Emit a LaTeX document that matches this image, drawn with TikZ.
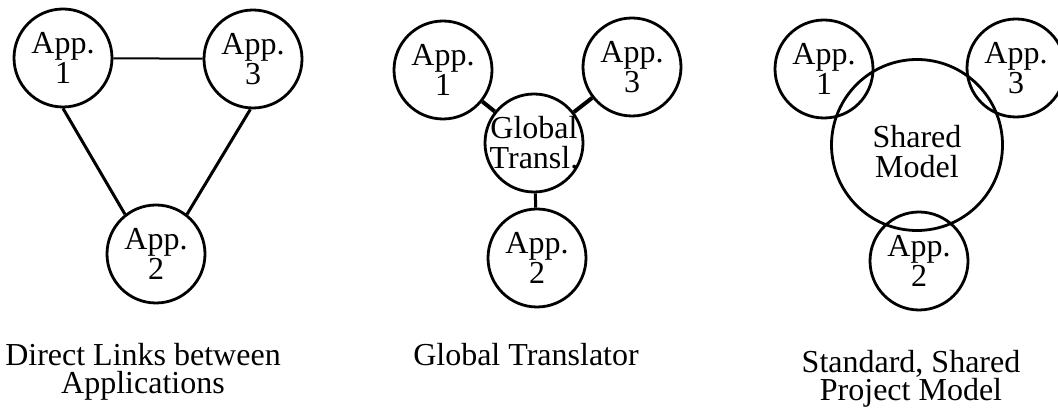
\documentclass[tikz,border=0pt]{standalone}
\usepackage{fontspec}
\setmainfont{Liberation Serif}
% two centred lines of zero width, so the circle size does not depend on the text
\newcommand{\twolines}[2]{\makebox[0pt]{#1}\\\makebox[0pt]{#2}}
\begin{document}
\begin{tikzpicture}[x=0.5pt,y=-0.5pt,
  app/.style={circle,draw,line width=1.4pt,minimum size=49pt,inner sep=0pt,
    align=center,font=\fontsize{16}{15}\selectfont},
  model/.style={circle,draw,line width=1.4pt,minimum size=85.5pt,inner sep=0pt},
  inner/.style={align=center,inner sep=0pt,font=\fontsize{16}{15}\selectfont},
  caption/.style={align=center,inner sep=0pt,font=\fontsize{16}{14}\selectfont},
  thin link/.style={line width=1pt},
  link/.style={line width=1.5pt},
  thick link/.style={line width=2pt}]
\clip (0,0) rectangle (1058,410);

% --- direct links between applications
\node[app] (a1) at (63,58)  {\twolines{App.}{1}};
\node[app] (a3) at (253,59) {\twolines{App.}{3}};
\node[app] (a2) at (156,254) {\twolines{App.}{2}};
\draw[thin link] (a1) -- (a3);
\draw[link] (a1.south) -- (a2.128);
\draw[link] (a3.267) -- (a2.52);
\node[caption] (cap1) at (143,372) {Direct Links between\\Applications};

% --- global translator
\node[app] (b1) at (443,70)  {\twolines{App.}{1}};
\node[app] (b3) at (632,67)  {\twolines{App.}{3}};
\node[app] (bg) at (534,143) {\twolines{Global}{Transl.}};
\node[app] (b2) at (537,258) {\twolines{App.}{2}};
\draw[thick link] (b1) -- (bg);
\draw[thick link] (bg) -- (b3);
\draw[link] (bg) -- (b2);
\node[caption,anchor=base] (cap2) at (526,366) {Global Translator};

% --- standard, shared project model
\node[model] (sm) at (917,145) {};
\node[inner] (smt) at ([yshift=-3.5pt]sm.center) {Shared\\Model};
\node[app] (c1) at (824,69)  {\twolines{App.}{1}};
\node[app] (c3) at (1016,68) {\twolines{App.}{3}};
\node[app] (c2) at (919,261) {\twolines{App.}{2}};
\node[caption] (cap3) at (911,379) {Standard, Shared\\Project Model};
\end{tikzpicture}
\end{document}
